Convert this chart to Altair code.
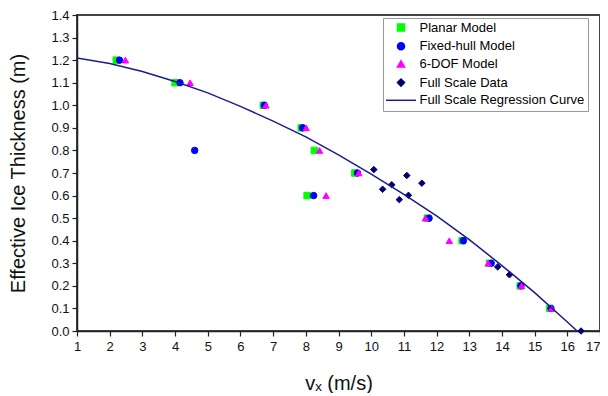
import altair as alt
import pandas as pd

SERIES = ["Planar Model", "Fixed-hull Model", "6-DOF Model", "Full Scale Data",
          "Full Scale Regression Curve"]

planar_x = [2.2, 4.0, 6.7, 7.86, 8.26, 8.04, 9.5, 11.72, 12.78, 13.62, 14.56, 15.46]
planar_y = [1.2, 1.1, 1.0, 0.9, 0.8, 0.6, 0.7, 0.5, 0.4, 0.3, 0.2, 0.1]

fixed_x = [2.3, 4.15, 4.6, 6.73, 7.9, 8.24, 9.58, 11.77, 12.82, 13.67, 14.58, 15.5]
fixed_y = [1.2, 1.1, 0.8, 1.0, 0.9, 0.6, 0.7, 0.5, 0.4, 0.3, 0.2, 0.1]

dof_x = [2.48, 4.46, 6.78, 8.01, 8.42, 8.62, 9.62, 11.66, 12.39, 13.58, 14.6, 15.52]
dof_y = [1.2, 1.1, 1.0, 0.9, 0.8, 0.6, 0.7, 0.5, 0.4, 0.3, 0.2, 0.1]

full_x = [10.08, 10.35, 10.63, 10.86, 11.09, 11.14, 11.55, 13.87, 14.23, 16.42]
full_y = [0.715, 0.628, 0.648, 0.582, 0.689, 0.601, 0.655, 0.284, 0.249, 0.0]

curve_x = [1, 2, 3, 4, 5, 6, 7, 8, 9, 10, 11, 12, 13, 14, 15, 16, 16.3]
curve_y = [1.21, 1.185, 1.15, 1.105, 1.055, 0.995, 0.93, 0.86, 0.78, 0.695,
           0.605, 0.51, 0.405, 0.29, 0.17, 0.04, 0.0]

x_ticks = list(range(1, 18))
y_ticks = [round(i * 0.1, 1) for i in range(15)]

COLORS = ["#00ff00", "#0000ff", "#ff00ff", "#000070", "#1c1c8a"]
SHAPES = ["square", "circle", "triangle-up", "diamond", "M-4.25,0L4.25,0"]

pts = pd.concat([
    pd.DataFrame({"v": planar_x, "h": planar_y, "series": SERIES[0]}),
    pd.DataFrame({"v": fixed_x, "h": fixed_y, "series": SERIES[1]}),
    pd.DataFrame({"v": dof_x, "h": dof_y, "series": SERIES[2]}),
    pd.DataFrame({"v": full_x, "h": full_y, "series": SERIES[3]}),
], ignore_index=True)
curve = pd.DataFrame({"v": curve_x, "h": curve_y, "series": SERIES[4]})

FONT = "Liberation Sans"

xenc = alt.X("v:Q", scale=alt.Scale(domain=[1, 17], nice=False),
             axis=alt.Axis(values=x_ticks, title="vₓ (m/s)", grid=False,
                           format="d", labelFontSize=13, titleFontSize=20,
                           titlePadding=20, labelPadding=4,
                           labelAlign={"condition": {"test": "datum.value == 17",
                                                     "value": "right"},
                                       "value": "center"}))
yenc = alt.Y("h:Q", scale=alt.Scale(domain=[0, 1.4], nice=False),
             axis=alt.Axis(values=y_ticks, title="Effective Ice Thickness (m)",
                           grid=False, format=".1f", labelFontSize=13,
                           titleFontSize=20, titlePadding=22, labelPadding=3))

legend = alt.Legend(title=None, orient="none", legendX=306, legendY=3,
                    labelFont=FONT, labelFontSize=13, labelColor="#000",
                    labelLimit=300,
                    symbolSize=50, rowPadding=3.7, padding=3,
                    symbolOffset=8.5, labelOffset=12,
                    strokeColor="#9a9a9a", fillColor="white",
                    symbolStrokeWidth=1.5)

fill_s = alt.Scale(domain=SERIES, range=COLORS)
shape_s = alt.Scale(domain=SERIES, range=SHAPES)

points = alt.Chart(pts).mark_point(filled=True, size=42, opacity=1, strokeWidth=1).encode(
    x=xenc, y=yenc,
    fill=alt.Fill("series:N", scale=fill_s, legend=legend, sort=SERIES),
    stroke=alt.Stroke("series:N", scale=fill_s, legend=legend, sort=SERIES),
    shape=alt.Shape("series:N", scale=shape_s, legend=legend, sort=SERIES),
)

line = alt.Chart(curve).mark_line(strokeWidth=1.5).encode(
    x=xenc, y=yenc,
    stroke=alt.Stroke("series:N", scale=fill_s, legend=legend, sort=SERIES),
)

chart = alt.layer(points, line).properties(
    width=523, height=316,
    autosize=alt.AutoSizeParams(type="none"),
    padding={"left": 69, "top": 7, "right": 0, "bottom": 62},
).configure_view(
    stroke="#444", strokeWidth=2
).configure_axis(
    labelFont=FONT, titleFont=FONT, labelColor="#111", titleColor="#111",
    titleFontWeight="normal", domainColor="#222", domainWidth=1.5,
    tickColor="#222", tickSize=5, tickWidth=1.2
)

chart.save("out.html", embed_options={"renderer": "svg", "actions": False})
